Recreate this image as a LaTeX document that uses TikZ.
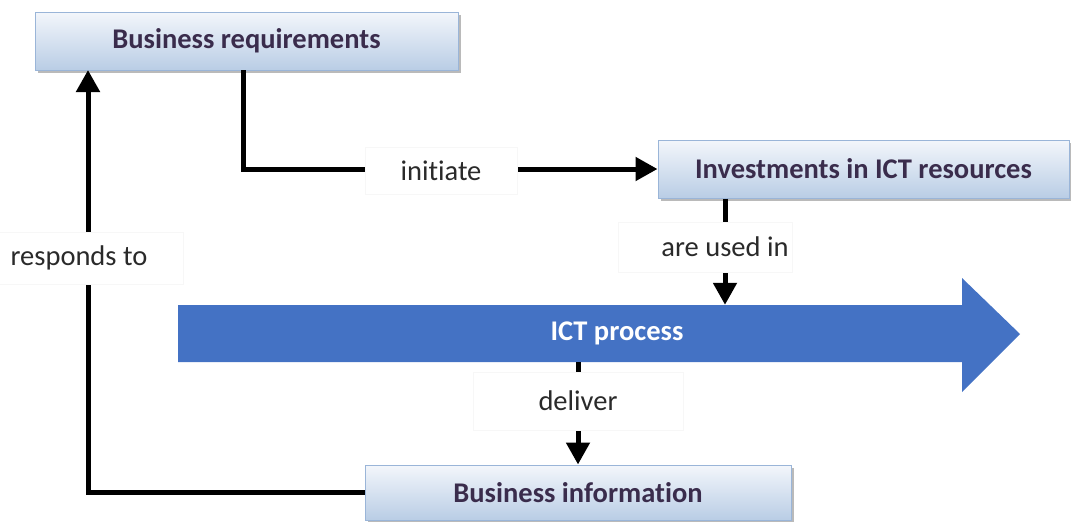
\documentclass[tikz,border=0pt]{standalone}
\usepackage{fontspec}
\setmainfont[Ligatures=NoCommon]{Carlito}
\usetikzlibrary{arrows.meta,shadows,calc}
\definecolor{boxtop}{HTML}{F3F6FB}
\definecolor{boxbot}{HTML}{B9CDE5}
\definecolor{boxline}{HTML}{9AB5D8}
\definecolor{boxtext}{HTML}{3A2C4C}
\definecolor{ictblue}{HTML}{4472C4}
\definecolor{labtext}{HTML}{2A2A2A}
\tikzset{
  box/.style={draw=boxline, line width=1pt, top color=boxtop, bottom color=boxbot,
    font=\fontsize{28.5}{32}\selectfont\bfseries, text=boxtext,
    drop shadow={shadow xshift=3pt, shadow yshift=-3pt, fill=black!45, opacity=0.6}},
  lab/.style={fill=white, draw=black!3, font=\fontsize{28.5}{32}\selectfont, text=labtext},
  conn/.style={line width=5pt, black},
  arr/.style={conn, -{Triangle[length=22pt,width=23pt]}}
}
\begin{document}
\begin{tikzpicture}[x=1pt,y=-1pt]
\useasboundingbox (0,0) rectangle (1071,522);
% ICT process arrow
\fill[ictblue] (178,305) -- (962,305) -- (962,278) -- (1020,334) -- (962,392) -- (962,362) -- (178,362) -- cycle;
\node[minimum width=784pt, minimum height=57pt, inner sep=0pt, text=white,
      font=\fontsize{28.5}{32}\selectfont\bfseries] (ict) at (570,333.5) {\hspace*{94pt}ICT process};
% boxes
\node[box, minimum width=423pt, minimum height=58pt] (req) at (246.5,41) {Business requirements};
\node[box, minimum width=411pt, minimum height=58pt] (inv) at (863.5,169) {Investments in ICT resources};
\node[box, minimum width=426pt, minimum height=55pt] (info) at (578,492.5) {Business information};
% connectors
\coordinate (reqout) at (243,70);
\coordinate (reqin) at (88,70);
\draw[arr] (reqout) |- (inv.west);
\draw[arr] (inv.south -| 725,0) -- (ict.north -| 725,0);
\draw[arr] (ict.south -| 578,0) -- (info.north);
\draw[arr] (info.west) -| (reqin);
% labels
\node[lab, minimum width=152pt, minimum height=47pt] (linit) at (441,171) {initiate};
\node[lab, minimum width=170pt, minimum height=50pt] (lused) at (705,247) {\hspace*{40pt}are used in};
\node[lab, minimum width=210pt, minimum height=58pt] (ldel) at (578,401) {deliver};
\node[lab, minimum width=200pt, minimum height=52pt] (lresp) at (83,258) {\hspace*{-8pt}responds to};
\end{tikzpicture}
\end{document}
